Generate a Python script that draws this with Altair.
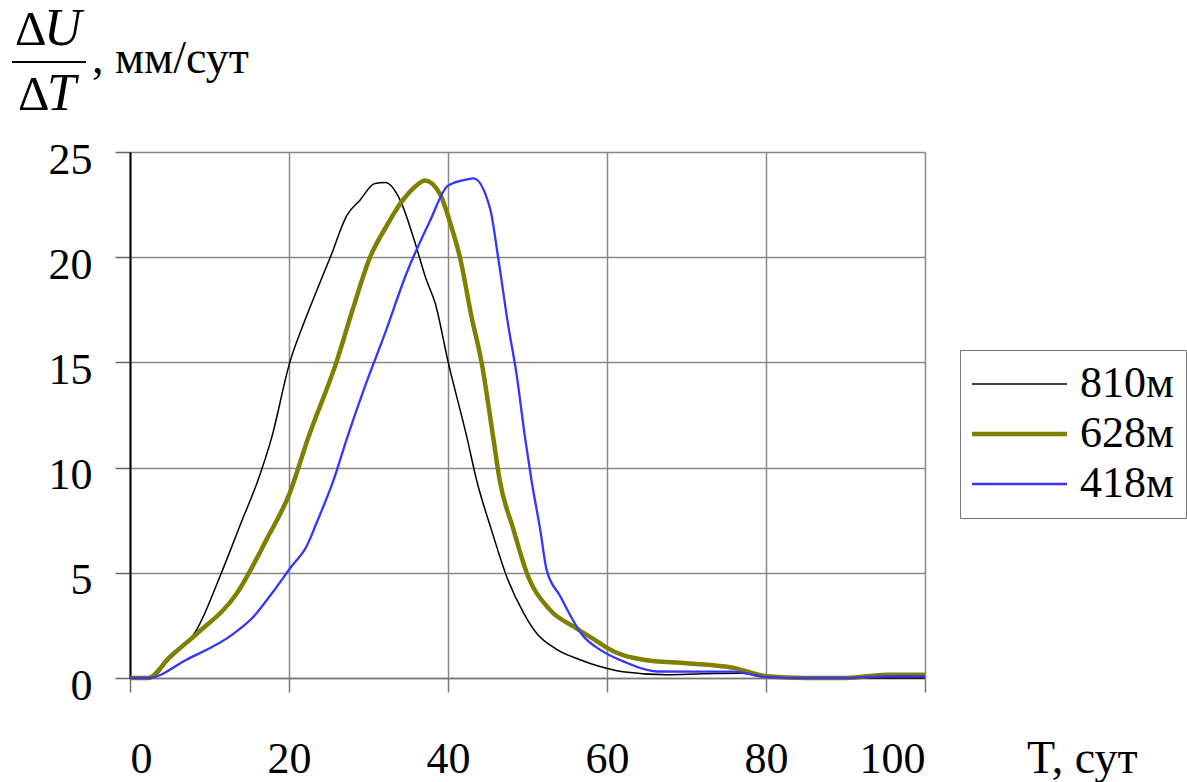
import altair as alt
import pandas as pd

# ---- data ----
series_names = ["810м", "628м", "418м"]
series_colors = ["#000000", "#808000", "#3535ff"]
series_widths = [1.5, 4.5, 2.3]

t_810 = [0, 2.5, 5, 8.4, 11.5, 14, 16.1, 17.8, 20.1, 22, 23.9, 25.2, 27.3, 28.9, 30.8, 32.1,
         34.0, 35.6, 37.3, 38.4, 40.0, 42.4, 43.6, 45.5, 47.4, 49.5, 51.2, 53.5, 56.6, 59.1,
         62, 67.5, 72, 77, 80, 85, 100]
v_810 = [0, 0, 0.9, 2.3, 5.0, 7.4, 9.4, 11.4, 15.0, 17.0, 18.8, 20.0, 22.0, 22.7, 23.5, 23.55,
         22.7, 21.0, 18.9, 17.8, 15.05, 11.4, 9.4, 7.0, 4.8, 3.1, 2.1, 1.4, 0.87, 0.55,
         0.3, 0.16, 0.2, 0.22, 0.05, 0, 0]

t_628 = [0, 2.3, 5, 8.4, 13.4, 17.2, 20.1, 22.4, 26.0, 28, 30.2, 32.3, 34.2, 36, 37.1, 39.0,
         40.3, 41.5, 43.0, 44.2, 45.7, 46.5, 48.2, 49.9, 52.8, 56, 59.1, 60.0, 64.6, 70, 75.9,
         80.1, 85, 90.1, 95.2, 100]
v_628 = [0, 0, 1.0, 2.1, 4.0, 6.6, 8.8, 11.4, 15.05, 17.5, 20.0, 21.5, 22.65, 23.4, 23.65, 23.0,
         21.6, 20.0, 17.1, 15.05, 11.4, 9.4, 7.1, 5.0, 3.25, 2.4, 1.66, 1.43, 0.87, 0.7, 0.48,
         0.08, 0, 0, 0.16, 0.15]

t_418 = [0, 2.3, 7.1, 13.0, 15.5, 18.0, 20.3, 22.2, 23.5, 25.6, 27.3, 29.5, 31.9, 34.8, 37.7,
         40.0, 42.4, 43.2, 45.3, 46.3, 47.6, 48.6, 49.7, 50.5, 51.6, 52.4, 54.1, 57.0, 59.1,
         62, 66.3, 75.9, 80.1, 85, 90, 95, 100]
v_418 = [0, 0, 0.87, 2.1, 2.9, 4.1, 5.3, 6.25, 7.4, 9.4, 11.4, 13.8, 16.2, 19.25, 21.7,
         23.4, 23.7, 23.75, 22.3, 20.0, 16.7, 14.5, 11.4, 9.4, 7.05, 5.15, 3.9, 2.0, 1.35,
         0.8, 0.31, 0.3, 0.04, 0, 0, 0.08, 0.08]

x_ticks = [0, 20, 40, 60, 80, 100]
y_ticks = [0, 5, 10, 15, 20, 25]

rows = []
for name, ts, vs in [("810м", t_810, v_810), ("628м", t_628, v_628), ("418м", t_418, v_418)]:
    for i, (t, v) in enumerate(zip(ts, vs)):
        rows.append({"T": t, "v": v, "series": name, "ord": i})
df = pd.DataFrame(rows)

FONT = "Liberation Serif"

legend_kw = dict(title=None, orient="none", legendX=830, legendY=198,
                 symbolType="M-2.2,0H7.3", symbolSize=400,
                 labelFont=FONT, labelFontSize=44, labelColor="#000",
                 labelOffset=64, padding=12, rowPadding=6,
                 strokeColor="#777", fillColor="white")

lines = alt.Chart(df).mark_line(interpolate="monotone", strokeJoin="round").encode(
    x=alt.X("T:Q", scale=alt.Scale(domain=[0, 100], nice=False),
            axis=alt.Axis(values=x_ticks, title=None, labelFontSize=44, labelFont=FONT,
                          labelColor="#000", labelBaseline="alphabetic", labelPadding=80,
                          tickSize=14, tickColor="#777", tickWidth=1.5,
                          domainColor="#777", domainWidth=1.5,
                          gridColor="#888", gridWidth=1.5)),
    y=alt.Y("v:Q", scale=alt.Scale(domain=[0, 25], nice=False),
            axis=alt.Axis(values=y_ticks, title=None, labelFontSize=44, labelFont=FONT,
                          labelColor="#000", labelBaseline="alphabetic", labelOffset=21,
                          labelPadding=23, labelAlign="right",
                          tickSize=15, tickColor="#666", tickWidth=1.5,
                          domainColor="#000", domainWidth=2,
                          gridColor="#888", gridWidth=1.5)),
    color=alt.Color("series:N", scale=alt.Scale(domain=series_names, range=series_colors),
                    legend=alt.Legend(**legend_kw)),
    strokeWidth=alt.StrokeWidth("series:N",
                                scale=alt.Scale(type="ordinal", domain=series_names,
                                                range=series_widths),
                                legend=alt.Legend(**legend_kw)),
    order="ord:Q",
)

one = pd.DataFrame({"k": [0]})

def txt(s, x, y, size, style="normal", align="left"):
    return alt.Chart(one).mark_text(text=s, font=FONT, fontSize=size, fontStyle=style,
                                    align=align, baseline="alphabetic", color="#000").encode(
        x=alt.value(x), y=alt.value(y))

title_parts = [
    txt("Δ", -115, -107, 49),
    txt("U", -86, -107, 52, "italic"),
    txt("Δ", -112, -42, 49),
    txt("T", -83, -42, 52, "italic"),
    txt(", мм/сут", -38, -79, 46),
    txt("T, сут", 897, 621, 46),
]
frac_line = alt.Chart(one).mark_rule(color="#000", strokeWidth=2).encode(
    x=alt.value(-118), x2=alt.value(-44), y=alt.value(-90))

chart = alt.layer(lines, frac_line, *title_parts).properties(
    width=795, height=526,
    autosize=alt.AutoSizeParams(type="none"),
    padding={"left": 130, "top": 152, "right": 262, "bottom": 104},
).configure_view(stroke=None).configure(background="white", font=FONT).configure_axis(
    labelFont=FONT).configure_legend(labelFont=FONT)

chart.save("out.html", embed_options={"renderer": "svg", "actions": False})
